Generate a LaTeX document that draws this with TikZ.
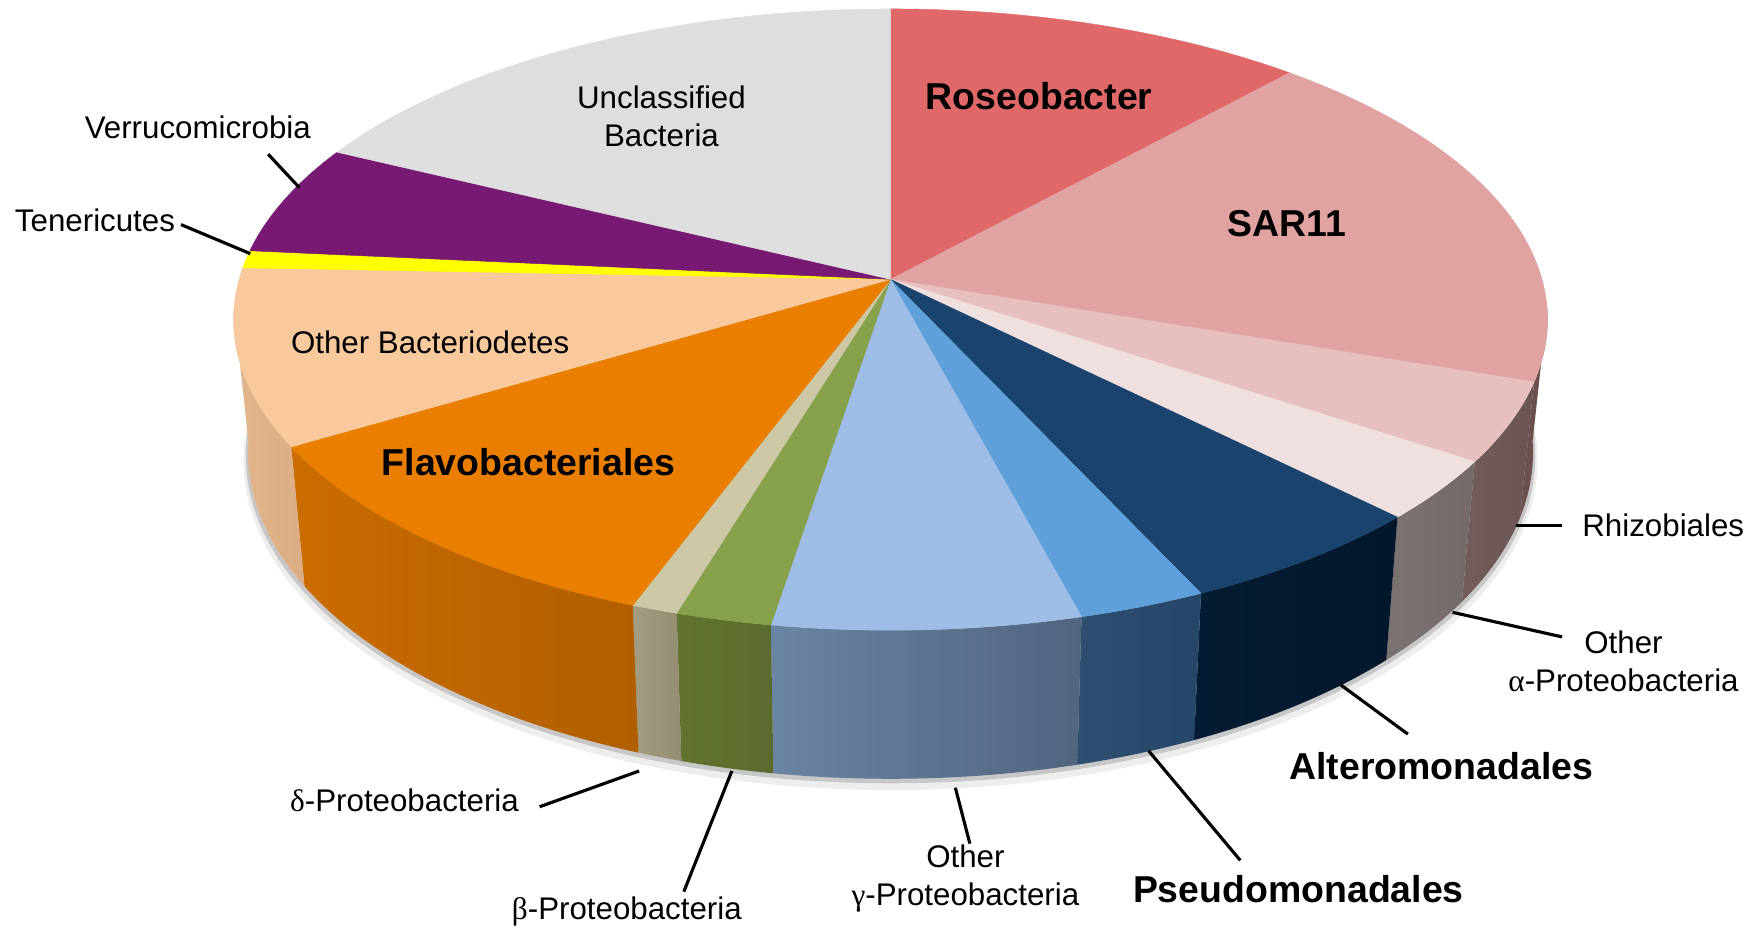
\documentclass[tikz,border=0pt]{standalone}
\usepackage{fontspec}
\setmainfont{Liberation Sans}
\newfontfamily\greekfont{Liberation Serif}
% top colours
\definecolor{roseo}{HTML}{E06868}
\definecolor{sar}{HTML}{E0A3A2}
\definecolor{rhizo}{HTML}{E8BFBF}
\definecolor{alpha}{HTML}{F0DFDF}
\definecolor{altero}{HTML}{1A446E}
\definecolor{pseudo}{HTML}{5F9FDA}
\definecolor{gamma}{HTML}{9DBDE6}
\definecolor{beta}{HTML}{87A04A}
\definecolor{delta}{HTML}{CCC7A5}
\definecolor{flavo}{HTML}{E97E00}
\definecolor{bact}{HTML}{F7C99D}
\definecolor{teneri}{HTML}{FFFF00}
\definecolor{verru}{HTML}{781A74}
\definecolor{unclass}{HTML}{DEDEDE}
% side colours
\definecolor{sarL}{HTML}{6E5252}
\definecolor{sarR}{HTML}{684C4C}
\definecolor{rhizoL}{HTML}{735C5C}
\definecolor{rhizoR}{HTML}{6B5454}
\definecolor{alphaL}{HTML}{7B7272}
\definecolor{alphaR}{HTML}{746A6A}
\definecolor{alteroL}{HTML}{041C33}
\definecolor{alteroR}{HTML}{02172B}
\definecolor{pseudoL}{HTML}{2F4F70}
\definecolor{pseudoR}{HTML}{26466A}
\definecolor{gammaL}{HTML}{6A84A3}
\definecolor{gammaR}{HTML}{51657F}
\definecolor{betaL}{HTML}{62742F}
\definecolor{betaR}{HTML}{5B6B2E}
\definecolor{deltaL}{HTML}{A29D80}
\definecolor{deltaR}{HTML}{938E72}
\definecolor{flavoL}{HTML}{CB6C00}
\definecolor{flavoR}{HTML}{B05E00}
\definecolor{bactL}{HTML}{E4B68C}
\definecolor{bactR}{HTML}{DBAD84}

\begin{document}
\begin{tikzpicture}[x=1pt,y=-1pt,
    lbl/.style={inner sep=0pt,align=center,font=\fontsize{28}{34}\selectfont},
    blbl/.style={inner sep=0pt,font=\fontsize{33.5}{40}\selectfont\bfseries},
    leader/.style={line width=2.8pt}]
\useasboundingbox (0,0) rectangle (1568,833);
\coordinate (apex) at (797,250);

% shadow under the pie
\fill[black!7] (797,412) ellipse[x radius=579, y radius=295];
\fill[black!22] (797,408) ellipse[x radius=577, y radius=293];

% side walls
\foreach \a/\b/\l/\r in {-2/11.6/sarL/sarR, 11.6/27.2/rhizoL/rhizoR, 27.2/39.5/alphaL/alphaR,
    39.5/61.8/alteroL/alteroR, 61.8/73.1/pseudoL/pseudoR, 73.1/100.5/gammaL/gammaR,
    100.5/109/betaL/betaR, 109/113.1/deltaL/deltaR, 113.1/155.8/flavoL/flavoR, 155.8/182/bactL/bactR}{
  \shade[left color=\l, right color=\r] ({797+588*cos(\a)},{286+278*sin(\a)})
    arc[start angle=\a, end angle=\b, x radius=588, y radius=278]
    -- ({797+575*cos(\b)},{405+292*sin(\b)})
    arc[start angle=\b, end angle=\a, x radius=575, y radius=292] -- cycle;
}

% top of the pie
\foreach \a/\b/\c in {-90/-52.6/roseo, -52.6/11.6/sar, 11.6/27.2/rhizo, 27.2/39.5/alpha,
    39.5/61.8/altero, 61.8/73.1/pseudo, 73.1/100.5/gamma, 100.5/109/beta, 109/113.1/delta,
    113.1/155.8/flavo, 155.8/189.6/bact, 189.6/192.8/teneri, 192.8/212.6/verru, 212.6/270/unclass}{
  \filldraw[fill=\c, draw=\c, line width=0.4pt] (apex) -- ({797+588*cos(\a)},{286+278*sin(\a)})
    arc[start angle=\a, end angle=\b, x radius=588, y radius=278] -- cycle;
}

% labels
\node[blbl] (roseo-lbl) at (930,86) {Roseobacter};
\node[blbl] (sar-lbl) at (1152,200) {SAR11};
\node[lbl] (unclass-lbl) at (592,104) {Unclassified\\Bacteria};
\node[lbl] (verru-lbl) at (177,114) {Verrucomicrobia};
\node[lbl] (teneri-lbl) at (85,197) {Tenericutes};
\node[lbl] (bact-lbl) at (385,306) {Other Bacteriodetes};
\node[blbl] (flavo-lbl) at (473,414) {Flavobacteriales};
\node[lbl,anchor=west] (rhizo-lbl) at (1416,470) {Rhizobiales};
\node[lbl] (alpha-lbl) at (1453,592) {Other\\{\greekfont α}-Proteobacteria};
\node[blbl] (altero-lbl) at (1290,686) {Alteromonadales};
\node[blbl] (pseudo-lbl) at (1162,796) {Pseudomonadales};
\node[lbl] (gamma-lbl) at (864,786) {Other\\{\greekfont γ}-Proteobacteria};
\node[lbl] (beta-lbl) at (561,816) {{\greekfont β}-Proteobacteria};
\node[lbl] (delta-lbl) at (362,716) {{\greekfont δ}-Proteobacteria};

% leader lines
\coordinate (verru-a) at (268,168);   \coordinate (verru-b) at (240,138);
\coordinate (teneri-a) at (224,227);  \coordinate (teneri-b) at (162,201);
\coordinate (rhizo-a) at (1357,470);  \coordinate (rhizo-b) at (1398,470);
\coordinate (alpha-a) at (1300,548);  \coordinate (alpha-b) at (1398,570);
\coordinate (altero-a) at (1200,613); \coordinate (altero-b) at (1260,657);
\coordinate (pseudo-a) at (1028,672); \coordinate (pseudo-b) at (1110,770);
\coordinate (gamma-a) at (855,705);   \coordinate (gamma-b) at (868,755);
\coordinate (beta-a) at (655,690);    \coordinate (beta-b) at (612,798);
\coordinate (delta-a) at (572,690);   \coordinate (delta-b) at (483,722);
\foreach \n in {verru,teneri,rhizo,alpha,altero,pseudo,gamma,beta,delta}
  \draw[leader] (\n-a) -- (\n-b);
\end{tikzpicture}
\end{document}
